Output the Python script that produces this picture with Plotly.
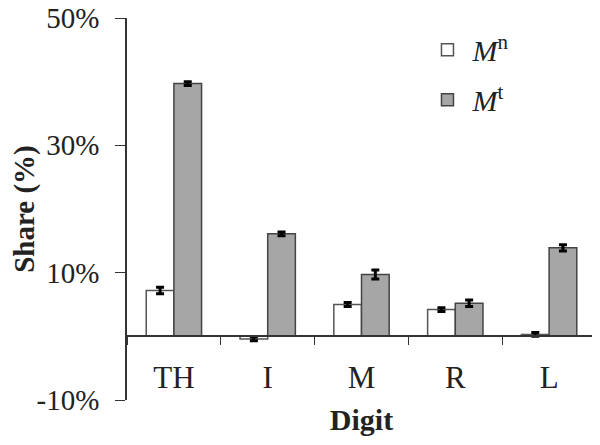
import plotly.graph_objects as go

digits = ["TH", "I", "M", "R", "L"]
mn_share = [7.2, -0.4, 5.0, 4.2, 0.3]
mn_err = [0.5, 0.3, 0.3, 0.3, 0.3]
mt_share = [39.7, 16.1, 9.7, 5.2, 13.9]
mt_err = [0.3, 0.3, 0.7, 0.5, 0.5]
y_ticks = [-10, 10, 30, 50]
y_labels = ["-10%", "10%", "30%", "50%"]

serif = "Liberation Serif"

fig = go.Figure()
fig.add_trace(go.Bar(
    x=digits, y=mn_share, name="<i>M</i><sup>n</sup>",
    marker=dict(color="white", line=dict(color="#555555", width=1.5)),
    error_y=dict(type="data", array=mn_err, color="black", thickness=3, width=4),
    legendgroup="a",
))
fig.add_trace(go.Bar(
    x=digits, y=mt_share, name="<i>M</i><sup>t</sup>",
    marker=dict(color="#a6a6a6", line=dict(color="#444444", width=1.5)),
    error_y=dict(type="data", array=mt_err, color="black", thickness=3, width=4),
    legendgroup="b",
))

# page body adds an 8px offset, so margins are trimmed to compensate
fig.update_layout(
    width=600, height=445,
    margin=dict(l=119, r=12, t=10, b=53),
    paper_bgcolor="white", plot_bgcolor="white",
    barmode="group", bargap=0.41, bargroupgap=0,
    font=dict(family=serif, color="#222222"),
    legend=dict(x=0.63, y=0.985, xanchor="left", yanchor="top",
                font=dict(size=30, family=serif), tracegroupgap=8,
                itemwidth=40, bgcolor="rgba(0,0,0,0)"),
    xaxis=dict(
        type="category", anchor="free", position=10 / 60, automargin=False,
        showline=True, linecolor="#333333", linewidth=1.5,
        ticks="outside", tickson="boundaries", ticklen=8, tickcolor="#333333",
        ticklabelstandoff=14,
        tickfont=dict(size=31, family=serif),
        title=dict(text="<b>Digit</b>", font=dict(size=30, family=serif), standoff=14),
    ),
    yaxis=dict(
        range=[-10, 50], tickvals=y_ticks, ticktext=y_labels, automargin=False,
        showline=True, linecolor="#333333", linewidth=1.5,
        ticks="outside", ticklen=10, tickcolor="#333333",
        ticklabelstandoff=10, ticklabeloverflow="allow",
        showgrid=False, zeroline=False,
        tickfont=dict(size=29, family=serif),
        title=dict(text="<b>Share (%)</b>", font=dict(size=29, family=serif), standoff=0),
    ),
)

fig.write_html("out.html")
